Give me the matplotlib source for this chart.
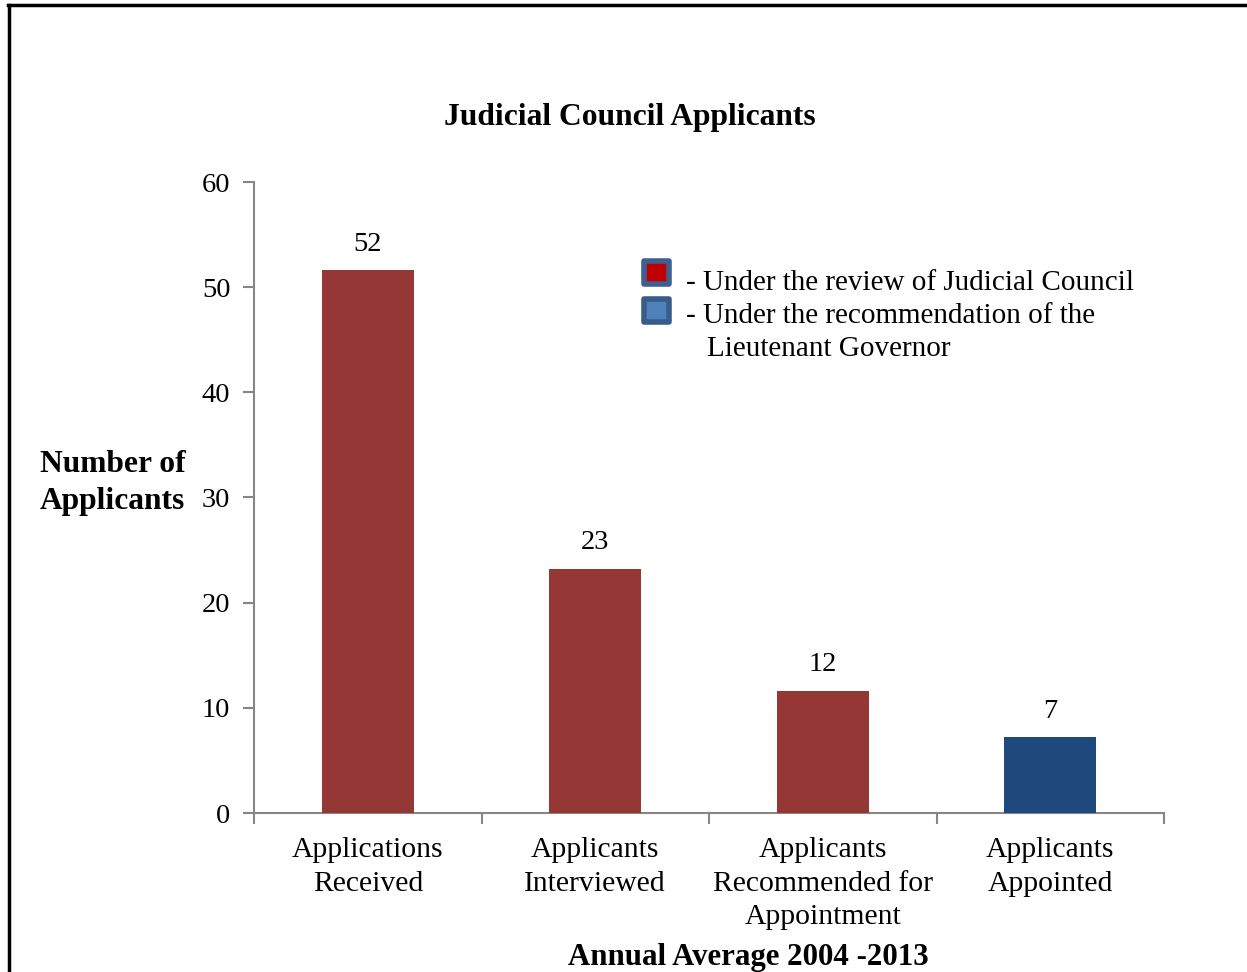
import matplotlib
matplotlib.use("Agg")
import matplotlib.pyplot as plt
from matplotlib.patches import Rectangle
from matplotlib.lines import Line2D

plt.rcParams["font.family"] = ["Liberation Serif", "DejaVu Serif"]

# data
categories = ["Applications\nReceived", "Applicants\nInterviewed",
              "Applicants\nRecommended for\nAppointment", "Applicants\nAppointed"]
values = [51.6, 23.2, 11.6, 7.2]
groups = ["review", "review", "review", "recommendation"]
yticks = [0, 10, 20, 30, 40, 50, 60]

COL = {"review": "#953735", "recommendation": "#1F497D"}
GRID = "#868686"

W, H = 1247, 972
fig = plt.figure(figsize=(W / 100, H / 100), dpi=100)

def fx(px):
    return px / W

def fy(py):
    return 1 - py / H

ax = fig.add_axes([fx(254), fy(813), fx(1164) - fx(254), fy(182) - fy(813)])
x = list(range(len(values)))
ax.bar(x, values, width=0.405, color=[COL[g] for g in groups], zorder=3)
for xi, v in zip(x, values):
    ax.text(xi, v + 1.3, f"{v:.0f}", ha="center", va="bottom", fontsize=20.5)

ax.set_xlim(-0.5, len(values) - 0.5)
ax.set_ylim(0, 60)
ax.set_yticks(yticks)
ax.set_yticklabels([str(t) for t in yticks], fontsize=20.5)
ax.set_xticks([i - 0.5 for i in range(len(values) + 1)])
ax.set_xticklabels([])
ax.set_xticks(x, minor=True)
ax.set_xticklabels(categories, minor=True, fontsize=21.3, linespacing=1.37)
ax.tick_params(axis="x", which="major", length=8, color=GRID, width=1.5, direction="out")
ax.tick_params(axis="x", which="minor", length=0, pad=17.5)
ax.tick_params(axis="y", length=8, color=GRID, width=1.5, pad=9)
for s in ["top", "right"]:
    ax.spines[s].set_visible(False)
for s in ["left", "bottom"]:
    ax.spines[s].set_color(GRID)
    ax.spines[s].set_linewidth(1.5)

# titles
fig.text(fx(630), fy(117), "Judicial Council Applicants", ha="center", va="center",
         fontsize=22.7, fontweight="bold")
fig.text(fx(748), fy(957), "Annual Average 2004 -2013", ha="center", va="center",
         fontsize=22.2, fontweight="bold")
fig.text(fx(40), fy(483), "Number of\nApplicants", ha="left", va="center",
         fontsize=22.7, fontweight="bold", linespacing=1.34)

# legend (drawn as figure patches)
fig.patches.append(Rectangle((fx(644), fy(284)), fx(25), fy(261) - fy(284),
                             transform=fig.transFigure, facecolor="#C00000",
                             edgecolor="#3F5F8F", linewidth=4, joinstyle="round"))
fig.patches.append(Rectangle((fx(644), fy(322)), fx(25), fy(299) - fy(322),
                             transform=fig.transFigure, facecolor="#4F81BD",
                             edgecolor="#385D8A", linewidth=4, joinstyle="round"))
fig.text(fx(686), fy(283), "- Under the review of Judicial Council", ha="left",
         va="center", fontsize=21)
fig.text(fx(686), fy(316), "- Under the recommendation of the", ha="left",
         va="center", fontsize=21)
fig.text(fx(707), fy(349), "Lieutenant Governor", ha="left", va="center", fontsize=21)

# page frame (left and top edges only)
fig.lines.append(Line2D([fx(9), fx(9)], [fy(5), 0], transform=fig.transFigure,
                        color="black", linewidth=2.5))
fig.lines.append(Line2D([fx(8), 1], [fy(5), fy(5)], transform=fig.transFigure,
                        color="black", linewidth=2.5))

fig.savefig("out.png", dpi=100)
